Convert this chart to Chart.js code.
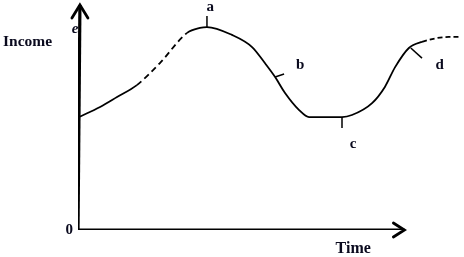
<!DOCTYPE html>
<html>
<head>
<meta charset="utf-8">
<script src="https://cdn.jsdelivr.net/npm/chart.js@4"></script>
<style>
  html, body { margin: 0; padding: 0; background: #fff; }
  #wrap { width: 464px; height: 257px; position: relative; }
</style>
</head>
<body>
<div id="wrap"><canvas id="cycle"></canvas></div>
<script>
// business cycle curve (time, income)
const timeVals   = [0.3, 6.9, 12.2, 18.4, 25.6, 34.1, 38.1, 40.3, 48.1, 54.4, 58.4, 61.6, 64.7, 69.1, 72.2, 82.5, 85.6, 91.9, 95.9, 99.1, 103.4, 107.5, 115.9, 119.4];
const incomeVals = [50.2, 54.7, 59.1, 64.4, 74.2, 87.6, 89.8, 90.2, 86.7, 81.3, 74.2, 68.0, 60.9, 53.3, 50.2, 50.2, 51.1, 56.4, 63.6, 72.4, 80.9, 83.6, 85.8, 85.8];

// phase marks a..d : tick start/end and label anchor
const markLabels = ["a", "b", "c", "d"];
const markFrom   = [[40.3, 90.2], [61.6, 68.0], [82.5, 50.2], [104.0, 80.9]];
const markTo     = [[40.3, 95.1], [64.4, 69.3], [82.5, 45.3], [107.5, 76.4]];
const markText   = [[41.3, 99.0], [69.4, 73.2], [86.0, 38.0], [113.0, 73.5]];

const yAxisLine = [[0, 0], [0.6, 100]];
const xAxisLine = [[0, 0], [102, 0]];

const toPts = (xs, ys) => xs.map((x, i) => ({ x: x, y: ys[i] }));
const pairPts = arr => arr.map(p => ({ x: p[0], y: p[1] }));

const dashed = ctx => {
  const a = ctx.p0.parsed.x, b = ctx.p1.parsed.x;
  if (a >= 18 && b <= 35) return [6, 4];
  if (a >= 107) return [5, 3];
  return undefined;
};

const datasets = [
  {
    data: toPts(timeVals, incomeVals),
    borderColor: "#000",
    borderWidth: 1.8,
    pointRadius: 0,
    tension: 0.4,
    cubicInterpolationMode: "monotone",
    segment: { borderDash: dashed }
  },
  { data: pairPts(yAxisLine), borderColor: "#000", borderWidth: 3.2, pointRadius: 0 },
  { data: pairPts(xAxisLine), borderColor: "#000", borderWidth: 3.2, pointRadius: 0 }
];
markLabels.forEach((m, i) => {
  datasets.push({
    data: pairPts([markFrom[i], markTo[i]]),
    borderColor: "#000",
    borderWidth: 1.5,
    pointRadius: 0
  });
});

const textPlugin = {
  id: "textPlugin",
  afterDatasetsDraw(chart) {
    const ctx = chart.ctx;
    const xs = chart.scales.x, ys = chart.scales.y;
    const px = v => xs.getPixelForValue(v);
    const py = v => ys.getPixelForValue(v);

    // arrow heads
    ctx.save();
    ctx.strokeStyle = "#000";
    ctx.lineWidth = 2.8;
    ctx.lineCap = "round";
    const yt = yAxisLine[1];
    ctx.beginPath();
    ctx.moveTo(px(yt[0]) - 8, py(yt[1]) + 13);
    ctx.lineTo(px(yt[0]), py(yt[1]));
    ctx.lineTo(px(yt[0]) + 8, py(yt[1]) + 13);
    ctx.stroke();
    const xt = xAxisLine[1];
    ctx.beginPath();
    ctx.moveTo(px(xt[0]) - 11, py(xt[1]) - 7);
    ctx.lineTo(px(xt[0]), py(xt[1]));
    ctx.lineTo(px(xt[0]) - 11, py(xt[1]) + 7);
    ctx.stroke();

    ctx.fillStyle = "#0a0a1e";
    ctx.textAlign = "center";
    ctx.textBaseline = "middle";
    ctx.font = "bold 15px 'Liberation Serif'";
    markLabels.forEach((m, i) => {
      ctx.fillText(m, px(markText[i][0]), py(markText[i][1]));
    });

    ctx.font = "bold italic 15px 'Liberation Serif'";
    ctx.fillText("e", xs.left - 3, py(89.5));

    ctx.font = "bold 15.5px 'Liberation Serif'";
    ctx.textAlign = "left";
    ctx.fillText("Income", 3, py(83.5));
    ctx.font = "bold 16px 'Liberation Serif'";
    ctx.textAlign = "center";
    ctx.fillText("Time", px(86), py(-8.5));

    ctx.font = "bold 15px 'Liberation Serif'";
    ctx.textAlign = "right";
    ctx.fillText("0", xs.left - 5, py(0));
    ctx.restore();
  }
};

new Chart(document.getElementById("cycle"), {
  type: "line",
  data: { datasets: datasets },
  options: {
    responsive: true,
    maintainAspectRatio: false,
    animation: false,
    layout: { padding: { left: 78, right: 2, top: 5, bottom: 27 } },
    plugins: { legend: { display: false }, tooltip: { enabled: false } },
    scales: {
      x: { type: "linear", min: 0, max: 120, display: false },
      y: { type: "linear", min: 0, max: 100, display: false }
    }
  },
  plugins: [textPlugin]
});
</script>
</body>
</html>
